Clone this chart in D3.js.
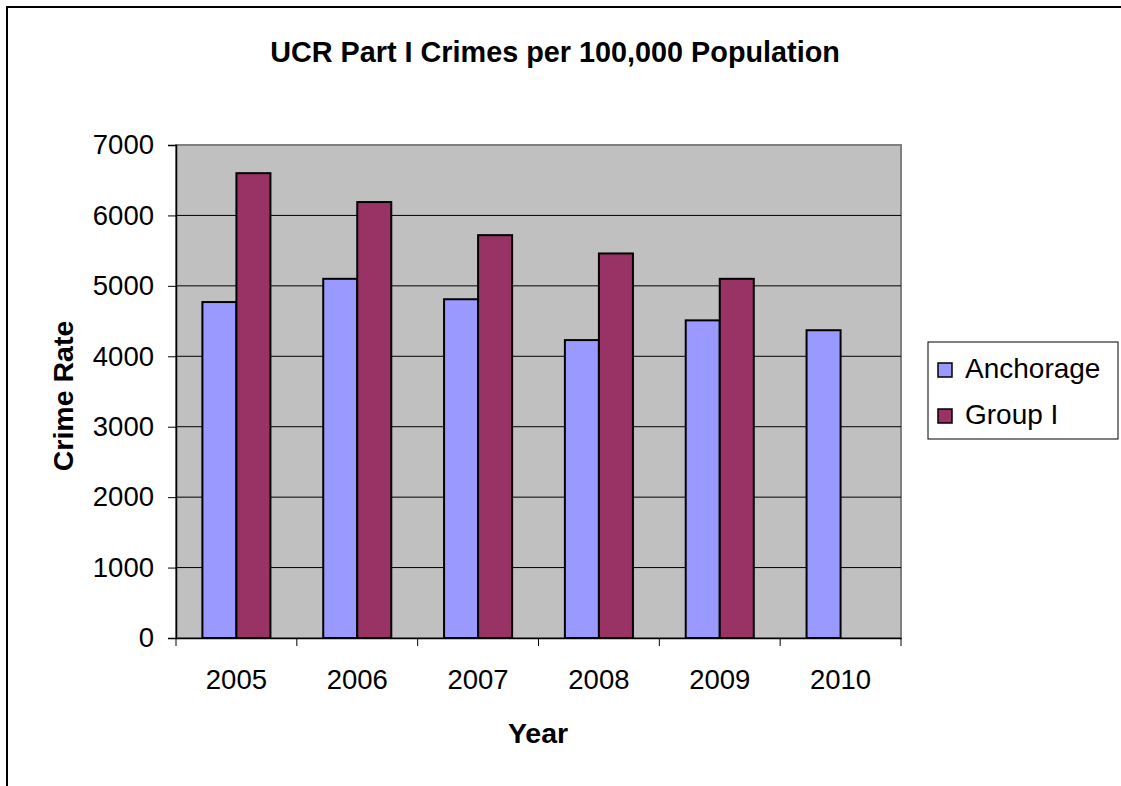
<!DOCTYPE html>
<html>
<head>
<meta charset="utf-8">
<script src="https://cdn.jsdelivr.net/npm/d3@7"></script>
<style>
  body { margin: 0; background: #fff; }
  text { font-family: "Liberation Sans", Arial, sans-serif; fill: #000; }
</style>
</head>
<body>
<div id="chart"></div>
<script>
// UCR Part I crimes chart

var years = ["2005", "2006", "2007", "2008", "2009", "2010"];
var seriesNames = ["Anchorage", "Group I"];
var anchorage = [4770, 5100, 4810, 4230, 4510, 4370];
var groupI = [6600, 6190, 5720, 5460, 5100, null];
var yTicks = [0, 1000, 2000, 3000, 4000, 5000, 6000, 7000];
var colors = ["#9999FF", "#993366"];

var width = 1121, height = 786;
var plot = {left: 176, right: 901, top: 145, bottom: 638};

var svg = d3.select("#chart").append("svg")
    .attr("width", width)
    .attr("height", height);

// outer chart frame (runs off right/bottom like the original)
svg.append("rect")
    .attr("x", 7).attr("y", 7)
    .attr("width", width + 20).attr("height", height + 20)
    .attr("fill", "#fff")
    .attr("stroke", "#000")
    .attr("stroke-width", 2);

var x = d3.scaleBand()
    .domain(years)
    .range([plot.left, plot.right])
    .padding(0);

var xInner = d3.scaleBand()
    .domain(seriesNames)
    .range([0, x.bandwidth()])
    .paddingInner(0)
    .paddingOuter(0.776);

var y = d3.scaleLinear()
    .domain([0, 7000])
    .range([plot.bottom, plot.top]);

// plot area background
svg.append("rect")
    .attr("x", plot.left).attr("y", plot.top)
    .attr("width", plot.right - plot.left)
    .attr("height", plot.bottom - plot.top)
    .attr("fill", "#C0C0C0")
    .attr("stroke", "#808080")
    .attr("stroke-width", 2);

// gridlines
svg.append("g")
  .selectAll("line")
  .data(yTicks.slice(1, -1))
  .enter().append("line")
    .attr("x1", plot.left).attr("x2", plot.right)
    .attr("y1", function(d) { return y(d); })
    .attr("y2", function(d) { return y(d); })
    .attr("stroke", "#000")
    .attr("stroke-width", 1);

// bars
var table = years.map(function(yr, i) {
  return {year: yr, values: [anchorage[i], groupI[i]]};
});

var groups = svg.append("g").selectAll("g")
  .data(table)
  .enter().append("g")
    .attr("transform", function(d) { return "translate(" + x(d.year) + ",0)"; });

groups.selectAll("rect")
  .data(function(d) {
    return d.values.map(function(v, j) { return {name: seriesNames[j], value: v, idx: j}; })
      .filter(function(e) { return e.value != null; });
  })
  .enter().append("rect")
    .attr("x", function(d) { return xInner(d.name); })
    .attr("y", function(d) { return y(d.value); })
    .attr("width", xInner.bandwidth())
    .attr("height", function(d) { return y(0) - y(d.value); })
    .attr("fill", function(d) { return colors[d.idx]; })
    .attr("stroke", "#000")
    .attr("stroke-width", 2);

// y axis
var yAxis = svg.append("g")
    .attr("transform", "translate(" + plot.left + ",0)")
    .call(d3.axisLeft(y).tickValues(yTicks).tickSize(8).tickPadding(14).tickFormat(d3.format("d")));
yAxis.select(".domain").attr("stroke", "#000").attr("stroke-width", 1.5);
yAxis.selectAll(".tick line").attr("stroke", "#000");
yAxis.selectAll("text").style("font-size", "27.5px");

// x axis
var xAxis = svg.append("g")
    .attr("transform", "translate(0," + plot.bottom + ")")
    .call(d3.axisBottom(x).tickSize(0).tickPadding(31));
xAxis.select(".domain").attr("stroke", "#000").attr("stroke-width", 1.5);
xAxis.selectAll("text").style("font-size", "27.5px");

// category boundary ticks
svg.append("g").selectAll("line")
  .data(years.concat(["end"]))
  .enter().append("line")
    .attr("x1", function(d, i) { return plot.left + i * x.step(); })
    .attr("x2", function(d, i) { return plot.left + i * x.step(); })
    .attr("y1", plot.bottom)
    .attr("y2", plot.bottom + 8)
    .attr("stroke", "#000");

// titles
svg.append("text")
    .attr("x", 555).attr("y", 62)
    .attr("text-anchor", "middle")
    .attr("font-weight", "bold")
    .style("font-size", "28.8px")
    .text("UCR Part I Crimes per 100,000 Population");

svg.append("text")
    .attr("transform", "translate(73,396) rotate(-90)")
    .attr("text-anchor", "middle")
    .attr("font-weight", "bold")
    .style("font-size", "28.5px")
    .text("Crime Rate");

svg.append("text")
    .attr("x", 538).attr("y", 743)
    .attr("text-anchor", "middle")
    .attr("font-weight", "bold")
    .style("font-size", "28.5px")
    .text("Year");

// legend
var legend = svg.append("g");
legend.append("rect")
    .attr("x", 928).attr("y", 342)
    .attr("width", 190).attr("height", 97)
    .attr("fill", "#fff")
    .attr("stroke", "#000")
    .attr("stroke-width", 1);

var items = legend.selectAll("g.item")
  .data(seriesNames)
  .enter().append("g")
    .attr("class", "item")
    .attr("transform", function(d, i) { return "translate(938," + (363 + i * 46) + ")"; });

items.append("rect")
    .attr("width", 14).attr("height", 14)
    .attr("fill", function(d, i) { return colors[i]; })
    .attr("stroke", "#000")
    .attr("stroke-width", 1.5);

items.append("text")
    .attr("x", 27).attr("y", 15)
    .style("font-size", "28px")
    .text(function(d) { return d; });
</script>
</body>
</html>
